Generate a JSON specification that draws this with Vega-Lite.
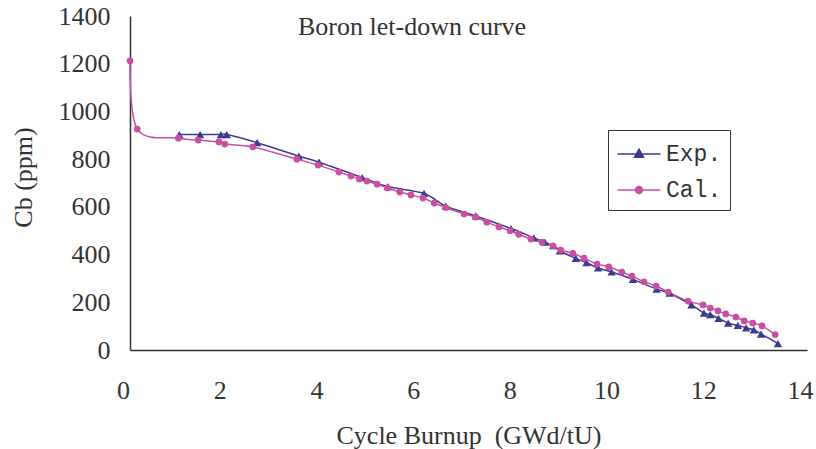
{
  "$schema": "https://vega.github.io/schema/vega-lite/v6.json",
  "autosize": "none",
  "width": 677,
  "height": 334,
  "padding": {"left": 130, "top": 16, "right": 9, "bottom": 99},
  "background": "white",
  "title": {
    "text": "Boron let-down curve",
    "anchor": "start",
    "frame": "group",
    "dx": 168,
    "dy": 54,
    "baseline": "middle",
    "font": "Liberation Serif",
    "fontSize": 26,
    "fontWeight": "normal",
    "color": "#333"
  },
  "config": {
    "view": {"stroke": null},
    "axis": {
      "domainColor": "#333",
      "tickColor": "#333",
      "domainWidth": 1.5,
      "tickWidth": 1.5,
      "labelFont": "Liberation Serif",
      "labelFontSize": 26,
      "labelColor": "#333",
      "titleFont": "Liberation Serif",
      "titleFontSize": 26,
      "titleColor": "#333",
      "titleFontWeight": "normal",
      "grid": false
    }
  },
  "data": {
    "values": [
      {"s": "Exp.", "x": 1.02, "y": 903},
      {"s": "Exp.", "x": 1.45, "y": 903},
      {"s": "Exp.", "x": 1.88, "y": 903},
      {"s": "Exp.", "x": 2.0, "y": 903},
      {"s": "Exp.", "x": 2.63, "y": 869},
      {"s": "Exp.", "x": 3.49, "y": 813},
      {"s": "Exp.", "x": 3.91, "y": 787},
      {"s": "Exp.", "x": 4.8, "y": 723},
      {"s": "Exp.", "x": 5.33, "y": 685},
      {"s": "Exp.", "x": 6.08, "y": 656},
      {"s": "Exp.", "x": 6.53, "y": 603},
      {"s": "Exp.", "x": 7.15, "y": 562},
      {"s": "Exp.", "x": 7.88, "y": 509},
      {"s": "Exp.", "x": 8.35, "y": 470},
      {"s": "Exp.", "x": 8.58, "y": 452},
      {"s": "Exp.", "x": 8.75, "y": 437},
      {"s": "Exp.", "x": 8.89, "y": 415},
      {"s": "Exp.", "x": 9.22, "y": 384},
      {"s": "Exp.", "x": 9.44, "y": 366},
      {"s": "Exp.", "x": 9.68, "y": 344},
      {"s": "Exp.", "x": 9.96, "y": 327},
      {"s": "Exp.", "x": 10.4, "y": 296},
      {"s": "Exp.", "x": 10.89, "y": 255},
      {"s": "Exp.", "x": 11.16, "y": 238},
      {"s": "Exp.", "x": 11.61, "y": 189},
      {"s": "Exp.", "x": 11.87, "y": 155},
      {"s": "Exp.", "x": 12.0, "y": 148},
      {"s": "Exp.", "x": 12.17, "y": 133},
      {"s": "Exp.", "x": 12.37, "y": 113},
      {"s": "Exp.", "x": 12.57, "y": 103},
      {"s": "Exp.", "x": 12.74, "y": 93},
      {"s": "Exp.", "x": 12.9, "y": 84},
      {"s": "Exp.", "x": 13.05, "y": 67},
      {"s": "Exp.", "x": 13.4, "y": 27},
      {"s": "Cal.", "x": 0.0, "y": 1212},
      {"s": "Cal.", "x": 0.15, "y": 926},
      {"s": "Cal.", "x": 1.0, "y": 888},
      {"s": "Cal.", "x": 1.41, "y": 880},
      {"s": "Cal.", "x": 1.84, "y": 872},
      {"s": "Cal.", "x": 1.96, "y": 863},
      {"s": "Cal.", "x": 2.54, "y": 851},
      {"s": "Cal.", "x": 3.45, "y": 800},
      {"s": "Cal.", "x": 3.89, "y": 775},
      {"s": "Cal.", "x": 4.32, "y": 746},
      {"s": "Cal.", "x": 4.57, "y": 729},
      {"s": "Cal.", "x": 4.74, "y": 717},
      {"s": "Cal.", "x": 4.9, "y": 708},
      {"s": "Cal.", "x": 5.11, "y": 695},
      {"s": "Cal.", "x": 5.33, "y": 679},
      {"s": "Cal.", "x": 5.58, "y": 662},
      {"s": "Cal.", "x": 5.81, "y": 650},
      {"s": "Cal.", "x": 6.06, "y": 637},
      {"s": "Cal.", "x": 6.29, "y": 616},
      {"s": "Cal.", "x": 6.53, "y": 597},
      {"s": "Cal.", "x": 6.91, "y": 570},
      {"s": "Cal.", "x": 7.15, "y": 557},
      {"s": "Cal.", "x": 7.38, "y": 536},
      {"s": "Cal.", "x": 7.63, "y": 516},
      {"s": "Cal.", "x": 7.86, "y": 500},
      {"s": "Cal.", "x": 8.04, "y": 485},
      {"s": "Cal.", "x": 8.29, "y": 465},
      {"s": "Cal.", "x": 8.52, "y": 452},
      {"s": "Cal.", "x": 8.75, "y": 436},
      {"s": "Cal.", "x": 8.91, "y": 419},
      {"s": "Cal.", "x": 9.16, "y": 405},
      {"s": "Cal.", "x": 9.39, "y": 385},
      {"s": "Cal.", "x": 9.66, "y": 360},
      {"s": "Cal.", "x": 9.9, "y": 349},
      {"s": "Cal.", "x": 10.17, "y": 327},
      {"s": "Cal.", "x": 10.38, "y": 310},
      {"s": "Cal.", "x": 10.63, "y": 286},
      {"s": "Cal.", "x": 10.88, "y": 268},
      {"s": "Cal.", "x": 11.13, "y": 243},
      {"s": "Cal.", "x": 11.54, "y": 205},
      {"s": "Cal.", "x": 11.85, "y": 189},
      {"s": "Cal.", "x": 12.0, "y": 176},
      {"s": "Cal.", "x": 12.16, "y": 164},
      {"s": "Cal.", "x": 12.32, "y": 151},
      {"s": "Cal.", "x": 12.53, "y": 138},
      {"s": "Cal.", "x": 12.7, "y": 122},
      {"s": "Cal.", "x": 12.88, "y": 113},
      {"s": "Cal.", "x": 13.07, "y": 101},
      {"s": "Cal.", "x": 13.34, "y": 65}
    ]
  },
  "encoding": {
    "x": {
      "field": "x",
      "type": "quantitative",
      "scale": {"domain": [0, 14], "nice": false},
      "axis": {
        "values": [0, 2, 4, 6, 8, 10, 12, 14],
        "ticks": false,
        "labelFlush": false,
        "labelOffset": -7,
        "labelPadding": 27,
        "title": "Cycle Burnup\u00a0\u00a0(GWd/tU)",
        "titleY": 85,
        "titleBaseline": "middle"
      }
    },
    "y": {
      "field": "y",
      "type": "quantitative",
      "scale": {"domain": [0, 1400], "nice": false},
      "axis": {
        "values": [0, 200, 400, 600, 800, 1000, 1200, 1400],
        "format": "d",
        "ticks": false,
        "labelPadding": 20,
        "title": "Cb (ppm)",
        "titleX": -107,
        "titleY": 161,
        "titleBaseline": "middle"
      }
    }
  },
  "layer": [
    {
      "mark": {"type": "line", "interpolate": "cardinal", "strokeWidth": 1.5},
      "encoding": {
        "color": {
          "field": "s",
          "type": "nominal",
          "scale": {"domain": ["Exp.", "Cal."], "range": ["#3b3a8f", "#c94fa5"]},
          "legend": {
            "orient": "none",
            "legendX": 478,
            "legendY": 114,
            "title": null,
            "padding": 8,
            "strokeColor": "#333",
            "fillColor": "white",
            "rowPadding": 8,
            "symbolSize": 900,
            "symbolOffset": 7,
            "labelOffset": 11,
            "labelFont": "Liberation Mono",
            "labelFontSize": 23,
            "labelColor": "#333",
            "symbolStrokeWidth": 1.5,
            "encoding": {
              "symbols": {
                "shape": {"value": {"expr": "datum.value === 'Exp.' ? 'M-1.43,0H1.43M0,-0.32L0.3,0.22L-0.3,0.22Z' : 'M-1.43,0H1.43M0.23,0A0.23,0.23,0,1,1,-0.23,0A0.23,0.23,0,1,1,0.23,0Z'"}},
                "fill": {"value": {"expr": "datum.value === 'Exp.' ? '#3b3a8f' : '#c94fa5'"}},
                "fillOpacity": {"value": 1},
                "strokeOpacity": {"value": 1}
              }
            }
          }
        }
      }
    },
    {
      "transform": [{"filter": "datum.s === 'Exp.'"}],
      "mark": {"type": "point", "filled": true, "opacity": 1, "shape": "triangle-up", "size": 70},
      "encoding": {
        "color": {
          "field": "s",
          "type": "nominal",
          "scale": {"domain": ["Exp.", "Cal."], "range": ["#3b3a8f", "#c94fa5"]},
          "legend": null
        }
      }
    },
    {
      "transform": [{"filter": "datum.s === 'Cal.'"}],
      "mark": {"type": "point", "filled": true, "opacity": 1, "shape": "circle", "size": 45},
      "encoding": {
        "color": {
          "field": "s",
          "type": "nominal",
          "scale": {"domain": ["Exp.", "Cal."], "range": ["#3b3a8f", "#c94fa5"]},
          "legend": null
        }
      }
    }
  ]
}
